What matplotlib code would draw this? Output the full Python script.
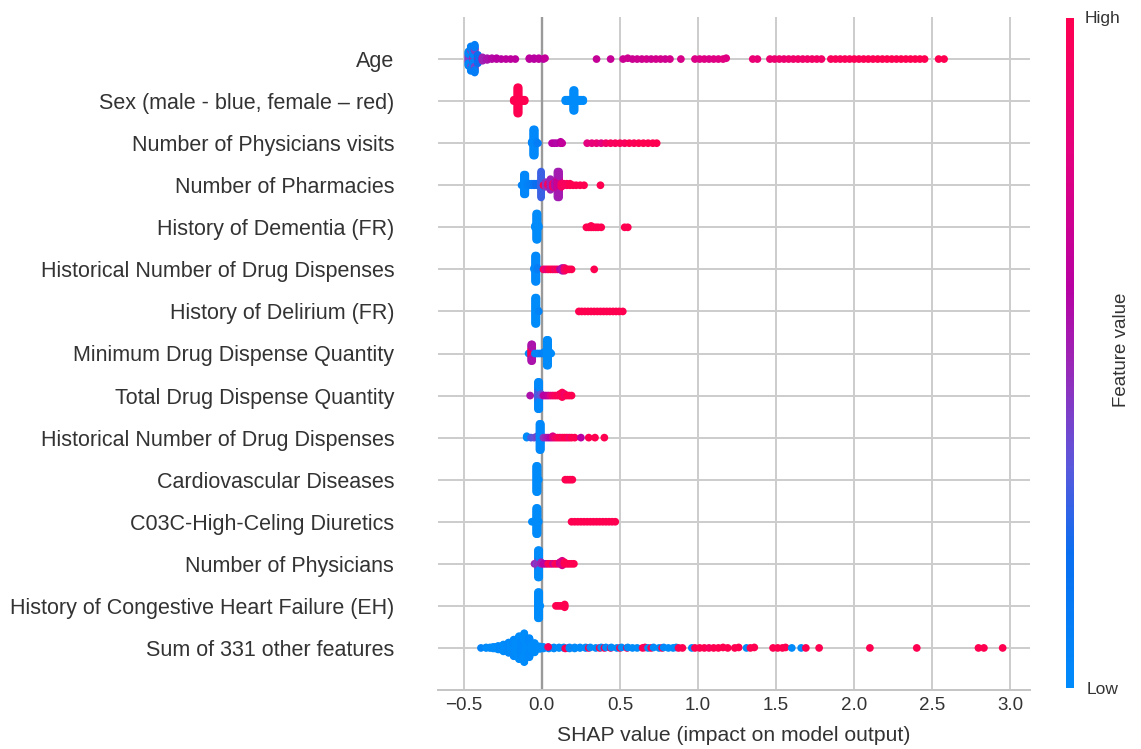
import numpy as np
import matplotlib
matplotlib.use("Agg")
import matplotlib.pyplot as plt
from matplotlib.colors import LinearSegmentedColormap, Normalize
from matplotlib.cm import ScalarMappable

plt.rcParams['font.family'] = ['Liberation Sans', 'DejaVu Sans']

features = [
    "Age",
    "Sex (male - blue, female \u2013 red)",
    "Number of Physicians visits",
    "Number of Pharmacies",
    "History of Dementia (FR)",
    "Historical Number of Drug Dispenses",
    "History of Delirium (FR)",
    "Minimum Drug Dispense Quantity",
    "Total Drug Dispense Quantity",
    "Historical Number of Drug Dispenses",
    "Cardiovascular Diseases",
    "C03C-High-Celing Diuretics",
    "Number of Physicians",
    "History of Congestive Heart Failure (EH)",
    "Sum of 331 other features",
]

# each point group: (shap value, number of samples, feature value 0=low .. 1=high)
age = [
    (-0.47, 10, 0.4), (-0.47, 8, 0.03), (-0.455, 6, 0.35), (-0.455, 6, 0.08),
    (-0.44, 8, 0.45), (-0.44, 10, 0.05), (-0.43, 8, 0.4), (-0.43, 8, 0.1),
    (-0.41, 6, 0.5), (-0.41, 5, 0.2), (-0.38, 5, 0.5), (-0.35, 3, 0.55),
    (-0.32, 2, 0.58), (-0.29, 2, 0.6), (-0.26, 1, 0.6), (-0.23, 1, 0.62),
    (-0.20, 1, 0.62), (-0.17, 1, 0.62),
    (-0.08, 2, 0.62), (-0.05, 2, 0.6), (-0.02, 2, 0.62), (0.01, 1, 0.6), (0.02, 1, 0.65),
    (0.35, 1, 0.66), (0.44, 1, 0.66),
    (0.52, 1, 0.68), (0.55, 1, 0.7), (0.58, 1, 0.68), (0.61, 1, 0.7), (0.64, 1, 0.7),
    (0.67, 1, 0.72), (0.70, 1, 0.7), (0.73, 1, 0.72), (0.76, 1, 0.72), (0.79, 1, 0.7),
    (0.82, 1, 0.72), (0.89, 1, 0.74),
    (0.98, 1, 0.76), (1.01, 1, 0.76), (1.04, 1, 0.78), (1.07, 1, 0.76), (1.10, 1, 0.78),
    (1.13, 1, 0.78), (1.16, 1, 0.8), (1.18, 1, 0.78),
    (1.35, 1, 0.84), (1.38, 1, 0.84),
    (1.46, 1, 0.86), (1.49, 1, 0.86), (1.52, 1, 0.88), (1.55, 1, 0.86), (1.58, 1, 0.88),
    (1.61, 1, 0.88), (1.64, 1, 0.9), (1.67, 1, 0.88), (1.70, 1, 0.9), (1.73, 1, 0.9),
    (1.76, 1, 0.92), (1.79, 1, 0.9),
    (1.85, 1, 0.95), (1.88, 1, 0.96), (1.91, 1, 0.95), (1.94, 1, 0.97), (1.97, 1, 0.96),
    (2.00, 1, 0.98), (2.03, 1, 0.97), (2.06, 1, 0.98), (2.09, 1, 0.99), (2.12, 1, 0.98),
    (2.15, 1, 1.0), (2.18, 1, 0.99), (2.21, 1, 1.0), (2.24, 1, 1.0), (2.27, 1, 0.99),
    (2.30, 1, 1.0), (2.33, 1, 1.0), (2.36, 1, 1.0), (2.39, 1, 1.0), (2.42, 1, 1.0),
    (2.45, 1, 1.0), (2.54, 1, 1.0), (2.575, 1, 1.0),
]
sex = [
    (-0.18, 2, 1.0), (-0.17, 2, 1.0), (-0.163, 2, 1.0), (-0.157, 20, 1.0), (-0.149, 20, 1.0),
    (-0.14, 2, 1.0), (-0.13, 2, 1.0), (-0.12, 2, 1.0), (-0.11, 2, 1.0),
    (0.15, 2, 0.0), (0.16, 2, 0.0), (0.17, 2, 0.0), (0.18, 2, 0.0), (0.19, 2, 0.0),
    (0.201, 16, 0.0), (0.209, 16, 0.0), (0.22, 2, 0.0), (0.23, 2, 0.0), (0.24, 2, 0.0),
    (0.25, 2, 0.0), (0.265, 2, 0.0),
]
physician_visits = [
    (-0.065, 2, 0.05), (-0.055, 20, 0.02), (-0.046, 20, 0.02), (-0.035, 2, 0.05),
    (-0.025, 1, 0.1),
    (0.065, 1, 0.6), (0.08, 1, 0.6), (0.095, 1, 0.58), (0.12, 2, 0.6), (0.13, 1, 0.65),
    (0.29, 1, 0.8), (0.32, 1, 0.82), (0.35, 1, 0.85), (0.38, 1, 0.8), (0.41, 1, 0.9),
    (0.44, 1, 0.95), (0.47, 1, 0.95), (0.50, 1, 0.97), (0.53, 1, 0.95), (0.56, 1, 1.0),
    (0.59, 1, 0.97), (0.62, 1, 1.0), (0.65, 1, 1.0), (0.68, 1, 1.0), (0.71, 1, 1.0),
    (0.735, 1, 1.0),
]
pharmacies = [
    (-0.13, 1, 0.05), (-0.115, 14, 0.03), (-0.106, 14, 0.03), (-0.095, 2, 0.05),
    (-0.08, 2, 0.08), (-0.065, 2, 0.1), (-0.05, 2, 0.15), (-0.035, 2, 0.2),
    (-0.005, 18, 0.28), (0.01, 1, 1.0), (0.025, 4, 0.45), (0.04, 2, 0.95),
    (0.055, 8, 0.5), (0.07, 3, 0.9), (0.085, 4, 0.55),
    (0.1, 10, 0.7), (0.1, 8, 0.5), (0.11, 10, 0.68), (0.11, 8, 0.52),
    (0.125, 3, 0.92), (0.14, 2, 0.95), (0.16, 2, 0.95), (0.18, 2, 1.0), (0.20, 1, 1.0),
    (0.22, 1, 1.0), (0.245, 1, 1.0), (0.27, 1, 1.0), (0.375, 1, 1.0),
]
dementia = [
    (-0.045, 2, 0.0), (-0.036, 20, 0.0), (-0.028, 20, 0.0), (-0.02, 2, 0.0),
    (0.285, 1, 1.0), (0.30, 1, 1.0), (0.315, 2, 1.0), (0.33, 1, 1.0), (0.345, 1, 1.0),
    (0.36, 1, 1.0), (0.38, 1, 1.0), (0.53, 1, 1.0), (0.55, 1, 1.0),
]
drug_dispenses_1 = [
    (-0.05, 2, 0.05), (-0.043, 20, 0.02), (-0.035, 20, 0.02), (-0.028, 2, 0.1),
    (0.01, 1, 0.95), (0.025, 1, 0.8), (0.04, 1, 0.95), (0.055, 1, 1.0), (0.07, 1, 1.0),
    (0.085, 1, 0.9), (0.10, 1, 1.0), (0.115, 1, 0.6), (0.13, 3, 0.55), (0.145, 3, 0.9),
    (0.16, 1, 1.0), (0.175, 1, 1.0), (0.19, 1, 1.0), (0.335, 1, 1.0),
]
delirium = [
    (-0.043, 20, 0.0), (-0.035, 20, 0.0), (-0.027, 2, 0.0), (-0.02, 1, 0.05),
    (0.237, 1, 1.0), (0.255, 1, 1.0), (0.275, 1, 1.0), (0.295, 1, 1.0), (0.315, 1, 1.0),
    (0.335, 1, 1.0), (0.355, 1, 1.0), (0.375, 1, 1.0), (0.395, 1, 1.0), (0.415, 1, 1.0),
    (0.435, 1, 1.0), (0.455, 1, 1.0), (0.475, 1, 1.0), (0.495, 1, 1.0), (0.518, 1, 1.0),
]
min_dispense_qty = [
    (-0.085, 1, 0.02), (-0.068, 6, 1.0), (-0.068, 6, 0.55), (-0.062, 6, 1.0),
    (-0.062, 6, 0.55),
    (-0.045, 1, 0.05), (-0.03, 1, 0.05), (-0.015, 1, 0.05), (0.0, 1, 0.1), (0.015, 2, 0.05),
    (0.031, 18, 0.0), (0.04, 18, 0.0), (0.05, 2, 0.0), (0.06, 1, 0.0),
]
total_dispense_qty = [
    (-0.075, 1, 0.55), (-0.025, 8, 0.3), (-0.025, 11, 0.02), (-0.017, 8, 0.3),
    (-0.017, 11, 0.02),
    (-0.005, 2, 0.35), (0.01, 1, 0.6), (0.025, 1, 0.6), (0.04, 1, 0.65), (0.055, 1, 0.8),
    (0.07, 1, 0.9), (0.085, 1, 0.95), (0.10, 1, 1.0), (0.115, 2, 0.95), (0.13, 4, 1.0),
    (0.145, 2, 0.9), (0.16, 1, 1.0), (0.175, 1, 1.0), (0.19, 1, 1.0),
]
drug_dispenses_2 = [
    (-0.097, 2, 0.0), (-0.07, 1, 0.3), (-0.05, 1, 0.35), (-0.03, 2, 0.4),
    (-0.015, 20, 0.02), (-0.007, 20, 0.02),
    (0.01, 1, 0.45), (0.025, 1, 0.5), (0.04, 1, 0.55), (0.055, 1, 0.6), (0.07, 2, 0.75),
    (0.085, 1, 0.9), (0.10, 1, 0.95), (0.115, 1, 1.0), (0.13, 1, 0.95), (0.145, 1, 1.0),
    (0.16, 1, 1.0), (0.175, 1, 0.9), (0.19, 1, 1.0), (0.21, 1, 1.0), (0.25, 1, 0.6),
    (0.30, 1, 1.0), (0.34, 1, 1.0), (0.40, 1, 1.0),
]
cardiovascular = [
    (-0.036, 20, 0.0), (-0.028, 20, 0.0), (-0.02, 1, 0.0),
    (0.15, 1, 1.0), (0.165, 1, 1.0), (0.18, 1, 1.0), (0.195, 1, 1.0),
]
diuretics = [
    (-0.064, 1, 0.0), (-0.05, 1, 0.0), (-0.042, 2, 0.0), (-0.036, 20, 0.0),
    (-0.028, 20, 0.0), (-0.02, 1, 0.0),
    (0.19, 1, 1.0), (0.21, 1, 1.0), (0.23, 1, 1.0), (0.25, 1, 1.0), (0.27, 1, 1.0),
    (0.29, 1, 1.0), (0.31, 1, 1.0), (0.33, 1, 1.0), (0.35, 1, 1.0), (0.37, 1, 1.0),
    (0.39, 1, 1.0), (0.41, 1, 1.0), (0.43, 1, 1.0), (0.45, 1, 1.0), (0.47, 1, 1.0),
]
physicians = [
    (-0.047, 1, 0.5), (-0.035, 1, 0.4), (-0.025, 7, 0.45), (-0.025, 12, 0.0),
    (-0.017, 7, 0.45), (-0.017, 12, 0.0),
    (-0.005, 2, 0.5), (0.01, 1, 0.6), (0.025, 1, 0.6), (0.04, 1, 0.95), (0.055, 1, 1.0),
    (0.07, 1, 0.7), (0.085, 1, 0.95), (0.10, 1, 1.0), (0.115, 2, 0.7), (0.13, 4, 0.75),
    (0.145, 2, 1.0), (0.16, 1, 1.0), (0.175, 1, 1.0), (0.19, 1, 1.0), (0.205, 1, 1.0),
]
chf = [
    (-0.025, 20, 0.0), (-0.017, 20, 0.0), (-0.01, 1, 0.0),
    (0.09, 1, 1.0), (0.105, 1, 1.0), (0.12, 1, 1.0), (0.135, 1, 1.0), (0.146, 3, 1.0),
]
other_features = [
    (-0.39, 1, 0.05), (-0.357, 2, 0.0), (-0.333, 2, 0.0), (-0.313, 2, 0.0),
    (-0.30, 4, 0.0), (-0.28, 4, 0.0), (-0.266, 7, 0.02), (-0.246, 8, 0.0),
    (-0.233, 11, 0.0), (-0.213, 11, 0.02), (-0.2, 17, 0.0), (-0.18, 18, 0.02),
    (-0.166, 24, 0.0), (-0.146, 24, 0.0), (-0.133, 30, 0.02), (-0.113, 30, 0.0),
    (-0.1, 20, 0.0), (-0.08, 20, 0.02), (-0.066, 10, 0.0), (-0.046, 10, 0.0),
    (-0.033, 3, 0.0), (-0.013, 3, 0.0),
    (0.01, 4, 0.0), (0.044, 3, 0.0), (0.077, 3, 0.02), (0.11, 2, 0.0),
    (0.04, 1, 0.95),
    (0.14, 2, 0.0), (0.15, 1, 1.0), (0.17, 1, 0.9), (0.177, 2, 0.0), (0.21, 1, 1.0),
    (0.21, 2, 0.0), (0.244, 2, 0.0), (0.28, 2, 0.0), (0.30, 1, 1.0), (0.31, 1, 0.0),
    (0.345, 1, 0.0), (0.37, 1, 1.0), (0.38, 1, 0.0), (0.40, 1, 1.0), (0.41, 1, 0.0),
    (0.44, 1, 0.95), (0.445, 1, 0.0), (0.48, 1, 0.0), (0.50, 1, 1.0), (0.51, 1, 0.0),
    (0.545, 1, 1.0), (0.55, 1, 0.0), (0.58, 1, 0.0), (0.61, 1, 0.0), (0.645, 1, 1.0),
    (0.66, 1, 0.95), (0.68, 1, 0.0), (0.70, 1, 1.0), (0.715, 1, 0.0), (0.75, 1, 0.0),
    (0.77, 1, 1.0), (0.78, 1, 0.0), (0.81, 1, 0.0), (0.84, 1, 0.0), (0.86, 1, 0.0),
    (0.875, 1, 1.0), (0.90, 1, 1.0), (0.96, 1, 0.0), (0.98, 1, 1.0), (1.01, 1, 1.0),
    (1.04, 1, 1.0), (1.07, 1, 0.95), (1.10, 1, 1.0), (1.13, 1, 1.0), (1.16, 1, 1.0),
    (1.19, 1, 1.0), (1.235, 1, 1.0), (1.26, 1, 1.0), (1.31, 1, 0.0), (1.335, 1, 1.0),
    (1.36, 1, 1.0), (1.48, 1, 1.0), (1.51, 1, 1.0), (1.54, 1, 1.0), (1.56, 1, 1.0),
    (1.60, 1, 0.0), (1.66, 1, 0.0), (1.69, 1, 1.0), (1.775, 1, 1.0), (2.10, 1, 1.0),
    (2.40, 1, 1.0), (2.795, 1, 1.0), (2.83, 1, 1.0), (2.95, 1, 1.0),
]

rows = [age, sex, physician_visits, pharmacies, dementia, drug_dispenses_1, delirium,
        min_dispense_qty, total_dispense_qty, drug_dispenses_2, cardiovascular, diuretics,
        physicians, chf, other_features]

x_ticks = [-0.5, 0.0, 0.5, 1.0, 1.5, 2.0, 2.5, 3.0]

red_blue = LinearSegmentedColormap.from_list("red_blue", [
    (0.0, "#008bfb"), (0.2, "#0a6ef0"), (0.33, "#5a58dc"), (0.48, "#9a28b8"),
    (0.6, "#b800a2"), (0.8, "#e4007e"), (1.0, "#ff0051")])


def swarm(xs, row_height=0.4):
    # same stacking as the shap beeswarm
    xs = np.asarray(xs, float)
    quant = np.round(100 * (xs - xs.min()) / (xs.max() - xs.min() + 1e-8))
    order = np.argsort(quant, kind="stable")
    ys = np.zeros(len(xs))
    layer = 0
    last = None
    for i in order:
        if quant[i] != last:
            layer = 0
        ys[i] = np.ceil(layer / 2) * ((layer % 2) * 2 - 1)
        layer += 1
        last = quant[i]
    ys *= 0.9 * (row_height / np.max(ys + 1))
    return ys


W, H = 1141, 749
fig = plt.figure(figsize=(W / 100, H / 100), dpi=100)
ax = fig.add_axes([438 / W, 59 / H, 592 / W, 673 / H])

n = len(features)
for i, groups in enumerate(rows):
    xs = np.concatenate([[g[0]] * g[1] for g in groups])
    cs = np.concatenate([[g[2]] * g[1] for g in groups])
    pos = n - 1 - i
    ax.scatter(xs, pos + swarm(xs), c=cs, cmap=red_blue, vmin=0, vmax=1,
               s=31, linewidths=0, zorder=3)

ax.axvline(0, color="#9a9a9a", lw=1.7, zorder=2)
ax.set_xlim(-0.665, 3.125)
ax.set_ylim(-1, n)
ax.set_yticks(range(n))
ax.set_yticklabels(features[::-1], fontsize=15.5, color="#333333")
ax.set_xticks(x_ticks)
ax.set_xticklabels([f"{t:.1f}".replace("-", "\u2212") for t in x_ticks],
                   fontsize=13.5, color="#333333")
ax.tick_params(axis="y", length=0, pad=31.5)
ax.tick_params(axis="x", length=0, pad=5)
ax.grid(True, color="#cccccc", lw=1.4, zorder=0)
ax.set_axisbelow(True)
for side in ["left", "top", "right"]:
    ax.spines[side].set_visible(False)
ax.spines["bottom"].set_color("#c4c4c4")
ax.spines["bottom"].set_linewidth(1.4)
ax.set_xlabel("SHAP value (impact on model output)", fontsize=15.2, color="#333333",
              labelpad=9)

cax = fig.add_axes([1066 / W, 61 / H, 8 / W, 670 / H])
cb = fig.colorbar(ScalarMappable(norm=Normalize(0, 1), cmap=red_blue), cax=cax, ticks=[])
cb.outline.set_visible(False)
fig.text(1085 / W, 1 - 18 / H, "High", ha="left", va="center", fontsize=12.5, color="#333333")
fig.text(1087 / W, 1 - 690 / H, "Low", ha="left", va="center", fontsize=12.5, color="#333333")
fig.text(1122 / W, 1 - 350 / H, "Feature value", rotation=90, ha="center", va="center",
         fontsize=13.5, color="#333333")

fig.savefig("out.png", dpi=100)
